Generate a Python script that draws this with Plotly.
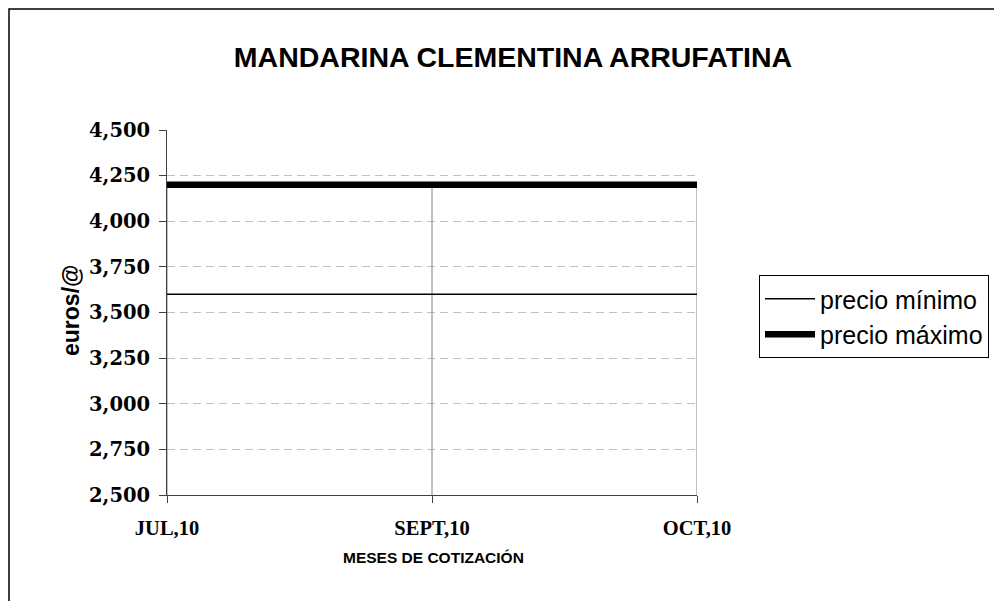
import plotly.graph_objects as go

# ---- data ----
months = ["JUL,10", "SEPT,10", "OCT,10"]
precio_minimo = [3.6, 3.6, 3.6]
precio_maximo = [4.2, 4.2, 4.2]
y_ticks = [2.5, 2.75, 3.0, 3.25, 3.5, 3.75, 4.0, 4.25, 4.5]

y_min, y_max = y_ticks[0], y_ticks[-1]
x_idx = list(range(len(months)))

# drop lines from the highest series point down to the axis
drop_x, drop_y = [], []
for i in x_idx:
    top = max(precio_minimo[i], precio_maximo[i])
    drop_x += [i, i, None]
    drop_y += [y_min, top, None]

fig = go.Figure()
fig.add_trace(go.Scatter(x=drop_x, y=drop_y, mode="lines",
                         line=dict(color="#808080", width=1),
                         showlegend=False, hoverinfo="skip"))
fig.add_trace(go.Scatter(x=x_idx, y=precio_minimo, mode="lines",
                         name="precio mínimo",
                         line=dict(color="#000000", width=1.3)))
fig.add_trace(go.Scatter(x=x_idx, y=precio_maximo, mode="lines",
                         name="precio máximo",
                         line=dict(color="#000000", width=6.5)))

# page body adds an 8px offset; target screen coords are shifted by it
OFF = 8
W, H = 1002, 601
L, R, T, B = 167 - OFF, 697 - OFF, 130 - OFF, 495 - OFF
pw, ph = R - L, B - T


def px(x):
    return (x - OFF - L) / pw


def py(y):
    return (B - (y - OFF)) / ph


fig.update_layout(
    width=W, height=H,
    margin=dict(l=L, r=W - R, t=T, b=H - B, pad=0),
    paper_bgcolor="white", plot_bgcolor="white",
    separators=",.",
    title=dict(text="<b>MANDARINA CLEMENTINA ARRUFATINA</b>",
               font=dict(family="Liberation Sans, Arial", size=28.5, color="black"),
               x=(513 - OFF) / W, xanchor="center", xref="container",
               y=1 - (57 - OFF) / H, yanchor="middle", yref="container"),
    xaxis=dict(range=[0, len(months) - 1], tickvals=x_idx, ticktext=months,
               showgrid=False, zeroline=False,
               showline=True, linecolor="#404040", linewidth=1,
               ticks="outside", ticklen=7, tickcolor="#404040", tickwidth=1,
               ticklabelstandoff=7,
               tickfont=dict(family="Liberation Serif, Times New Roman", size=20.5,
                             weight="bold", color="black")),
    yaxis=dict(range=[y_min, y_max], tickvals=y_ticks, tickformat=".3f",
               showgrid=True, gridcolor="#c0c0c0", gridwidth=1, griddash="8px,5px",
               zeroline=False,
               showline=True, linecolor="#404040", linewidth=1,
               ticks="outside", ticklen=7, tickcolor="#404040", tickwidth=1,
               ticklabelstandoff=5,
               tickfont=dict(family="DejaVu Serif", size=19.5, weight="bold",
                             color="black")),
    legend=dict(x=px(759), y=py(275), xanchor="left", yanchor="top",
                bordercolor="black", borderwidth=1, bgcolor="white",
                font=dict(family="Liberation Sans, Arial", size=25, color="black"),
                tracegroupgap=0, itemwidth=50),
    showlegend=True,
    annotations=[
        dict(text="<b>euros/@</b>", xref="paper", yref="paper",
             x=px(71), y=py(311), textangle=-90, showarrow=False,
             xanchor="center", yanchor="middle",
             font=dict(family="Liberation Sans, Arial", size=23, color="black")),
        dict(text="<b>MESES DE COTIZACIÓN</b>", xref="paper", yref="paper",
             x=px(433), y=py(557), showarrow=False,
             xanchor="center", yanchor="middle",
             font=dict(family="Liberation Sans, Arial", size=15.5, color="black")),
    ],
    shapes=[
        dict(type="rect", xref="paper", yref="paper",
             x0=px(9), x1=px(W + 20), y0=py(H + 20), y1=py(9),
             line=dict(color="black", width=1.5), fillcolor="rgba(0,0,0,0)",
             layer="above"),
    ],
)

fig.write_html("out.html")
